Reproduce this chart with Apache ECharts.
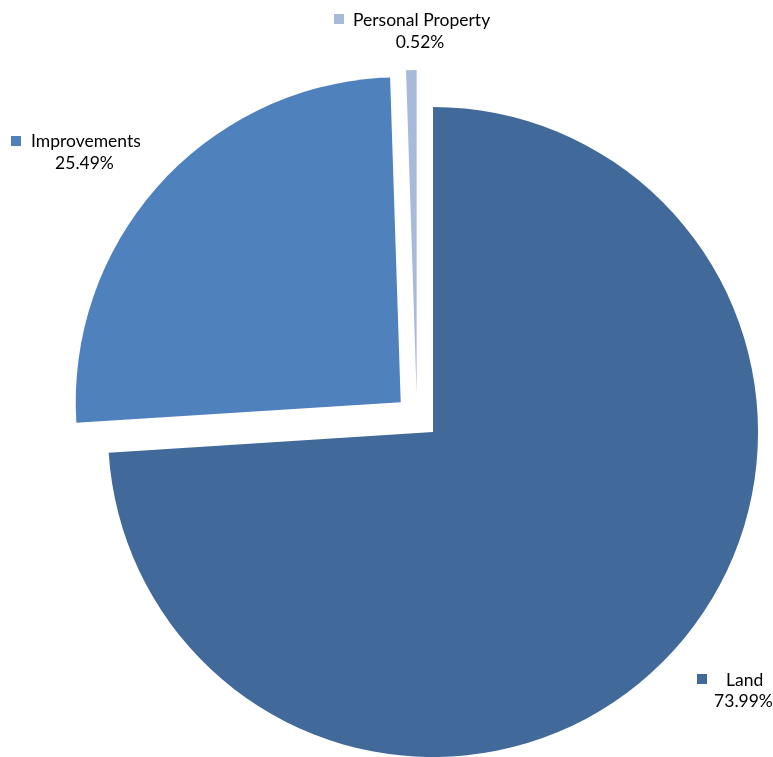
<!DOCTYPE html>
<html>
<head>
<meta charset="utf-8">
<script src="https://cdn.jsdelivr.net/npm/echarts@6/dist/echarts.min.js"></script>
<style>html,body{margin:0;padding:0;background:#fff;}#c{width:773px;height:757px;}</style>
</head>
<body>
<div id="c"></div>
<script>
const categories = ['Land', 'Improvements', 'Personal Property'];
const values = [73.99, 25.49, 0.52];
const colors = ['#41699A', '#4F81BD', '#A7BAD9'];

// label layout: square top-left, name left/middle, value center/middle
const labelLayout = [
  {sq: [697, 674], name: [726, 680], val: [743.5, 701]},
  {sq: [11, 136], name: [31, 141.5], val: [84.5, 163]},
  {sq: [334, 14], name: [353, 20.5], val: [420, 42.5]}
];

const FONT = '17.5px Lato';
const graphics = [];
categories.forEach((n, i) => {
  const L = labelLayout[i];
  graphics.push({type: 'rect', shape: {x: L.sq[0], y: L.sq[1], width: 10, height: 10}, style: {fill: colors[i]}, silent: true});
  graphics.push({type: 'text', x: L.name[0], y: L.name[1], style: {text: n, font: FONT, fill: '#000', align: 'left', verticalAlign: 'middle'}, silent: true});
  graphics.push({type: 'text', x: L.val[0], y: L.val[1], style: {text: values[i].toFixed(2) + '%', font: FONT, fill: '#000', align: 'center', verticalAlign: 'middle'}, silent: true});
});

const chart = echarts.init(document.getElementById('c'), null, {renderer: 'canvas'});
chart.setOption({
  animation: false,
  graphic: graphics,
  series: [{
    type: 'pie',
    center: [417, 417],
    radius: [0, 325],
    startAngle: 90,
    clockwise: true,
    selectedMode: 'multiple',
    selectedOffset: 22,
    emphasis: {disabled: true},
    label: {show: false},
    labelLine: {show: false},
    data: categories.map((n, i) => ({name: n, value: values[i], selected: true, itemStyle: {color: colors[i]}}))
  }]
});
</script>
</body>
</html>
